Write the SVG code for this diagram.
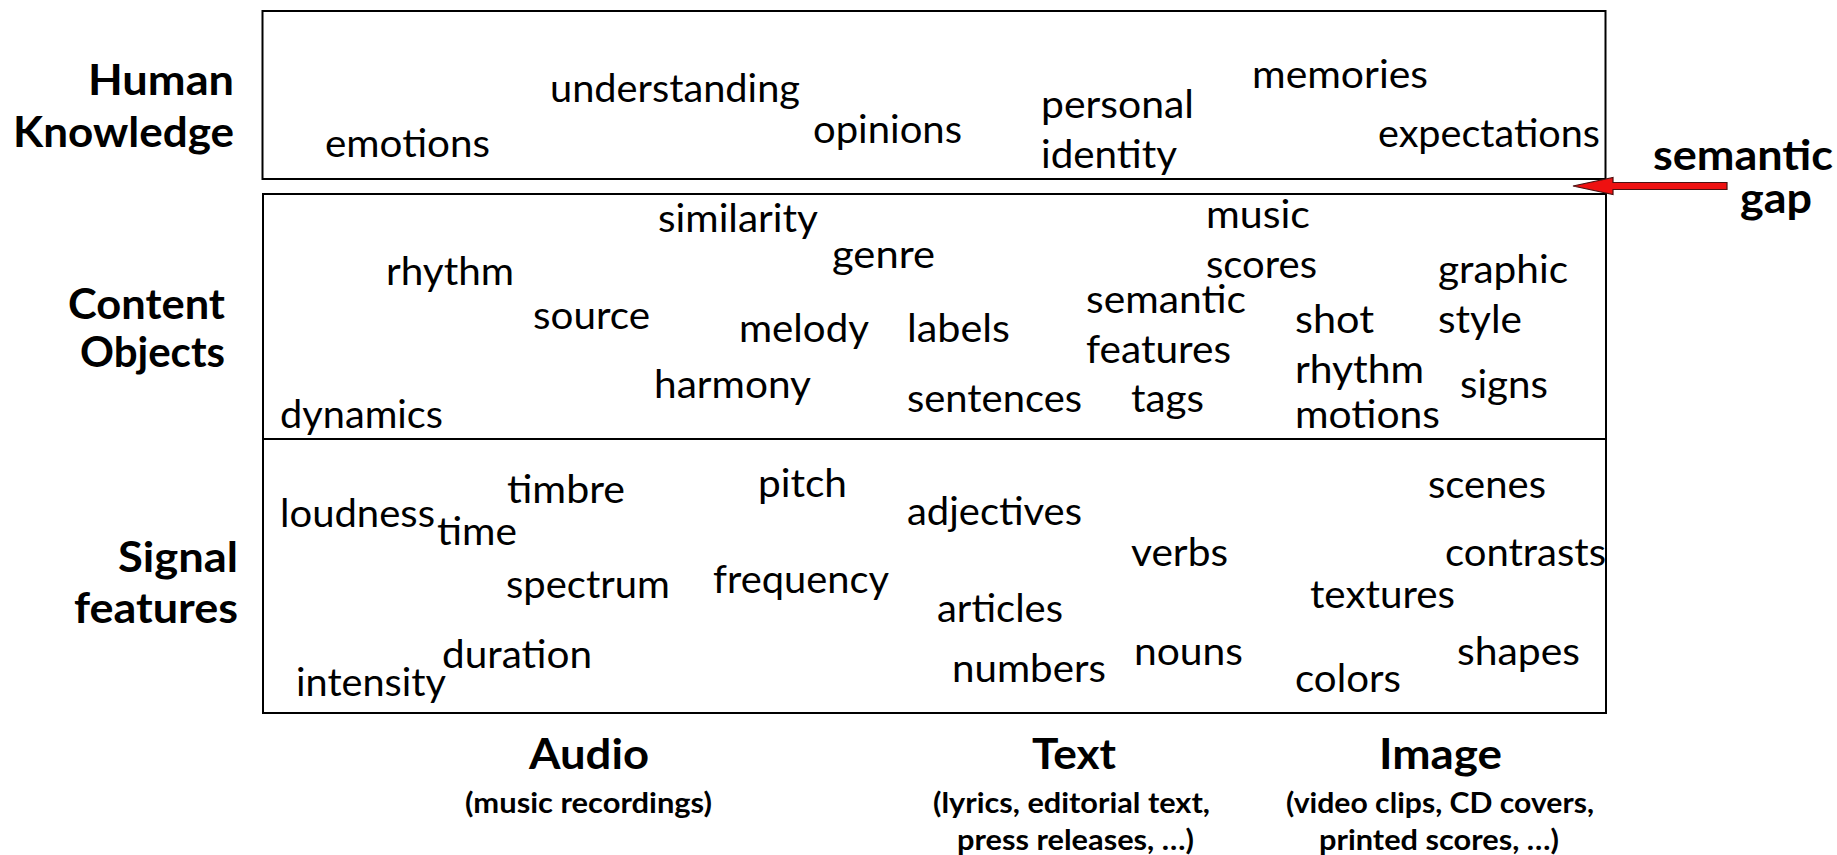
<svg xmlns="http://www.w3.org/2000/svg" width="1837" height="855" viewBox="0 0 1837 855">
  <defs>
    <style>
      text { font-family: Lato, "Open Sans", "Liberation Sans", sans-serif; fill: #000; }
      .w { font-size: 38px; }
      .lbl { font-size: 42px; font-weight: bold; }
      .cap { font-size: 28px; font-weight: bold; }
      .frame { fill: #fff; stroke: #000; stroke-width: 2; }
      .rule { stroke: #000; stroke-width: 2; fill: none; }
      .arrow { fill: #ee1111; stroke: #4a1010; stroke-width: 1.2; stroke-linejoin: miter; }
    </style>
  </defs>

  <rect width="1837" height="855" fill="#fff"/>

  <!-- layer frames -->
  <g id="frames">
    <rect class="frame" x="262.5" y="11" width="1343" height="168"/>
    <rect class="frame" x="263" y="194" width="1343" height="519"/>
    <line class="rule" x1="263" y1="439" x2="1606" y2="439"/>
  </g>

  <!-- row labels -->
  <g id="label-human-knowledge">
    <text class="lbl" x="88" y="95" textLength="146" lengthAdjust="spacingAndGlyphs">Human</text>
    <text class="lbl" x="13" y="147" textLength="221" lengthAdjust="spacingAndGlyphs">Knowledge</text>
  </g>
  <g id="label-content-objects">
    <text class="lbl" x="68" y="319" textLength="157" lengthAdjust="spacingAndGlyphs">Content</text>
    <text class="lbl" x="80" y="367" textLength="145" lengthAdjust="spacingAndGlyphs">Objects</text>
  </g>
  <g id="label-signal-features">
    <text class="lbl" x="118" y="572" textLength="120" lengthAdjust="spacingAndGlyphs">Signal</text>
    <text class="lbl" x="74" y="623" textLength="164" lengthAdjust="spacingAndGlyphs">features</text>
  </g>
  <g id="label-semantic-gap">
    <text class="lbl" x="1653" y="170" textLength="180" lengthAdjust="spacingAndGlyphs">semantic</text>
    <text class="lbl" x="1740" y="213" textLength="72" lengthAdjust="spacingAndGlyphs">gap</text>
  </g>

  <!-- human knowledge terms -->
  <g id="human-knowledge">
    <text class="w" x="325" y="157" textLength="165" lengthAdjust="spacingAndGlyphs">emotions</text>
    <text class="w" x="550" y="102" textLength="250" lengthAdjust="spacingAndGlyphs">understanding</text>
    <text class="w" x="813" y="143" textLength="149" lengthAdjust="spacingAndGlyphs">opinions</text>
    <text class="w" x="1041" y="118" textLength="153" lengthAdjust="spacingAndGlyphs">personal</text>
    <text class="w" x="1041" y="168" textLength="136" lengthAdjust="spacingAndGlyphs">identity</text>
    <text class="w" x="1252" y="88" textLength="176" lengthAdjust="spacingAndGlyphs">memories</text>
    <text class="w" x="1378" y="147" textLength="222" lengthAdjust="spacingAndGlyphs">expectations</text>
  </g>

  <!-- content object terms -->
  <g id="content-objects">
    <text class="w" x="658" y="232" textLength="160" lengthAdjust="spacingAndGlyphs">similarity</text>
    <text class="w" x="832" y="268" textLength="103" lengthAdjust="spacingAndGlyphs">genre</text>
    <text class="w" x="386" y="285" textLength="128" lengthAdjust="spacingAndGlyphs">rhythm</text>
    <text class="w" x="533" y="329" textLength="117" lengthAdjust="spacingAndGlyphs">source</text>
    <text class="w" x="739" y="342" textLength="130" lengthAdjust="spacingAndGlyphs">melody</text>
    <text class="w" x="907" y="342" textLength="103" lengthAdjust="spacingAndGlyphs">labels</text>
    <text class="w" x="654" y="398" textLength="157" lengthAdjust="spacingAndGlyphs">harmony</text>
    <text class="w" x="280" y="428" textLength="163" lengthAdjust="spacingAndGlyphs">dynamics</text>
    <text class="w" x="1206" y="228" textLength="104" lengthAdjust="spacingAndGlyphs">music</text>
    <text class="w" x="1206" y="278" textLength="111" lengthAdjust="spacingAndGlyphs">scores</text>
    <text class="w" x="1438" y="283" textLength="130" lengthAdjust="spacingAndGlyphs">graphic</text>
    <text class="w" x="1086" y="313" textLength="160" lengthAdjust="spacingAndGlyphs">semantic</text>
    <text class="w" x="1086" y="363" textLength="145" lengthAdjust="spacingAndGlyphs">features</text>
    <text class="w" x="1295" y="333" textLength="79" lengthAdjust="spacingAndGlyphs">shot</text>
    <text class="w" x="1438" y="333" textLength="84" lengthAdjust="spacingAndGlyphs">style</text>
    <text class="w" x="1295" y="383" textLength="129" lengthAdjust="spacingAndGlyphs">rhythm</text>
    <text class="w" x="1295" y="428" textLength="145" lengthAdjust="spacingAndGlyphs">motions</text>
    <text class="w" x="1460" y="398" textLength="88" lengthAdjust="spacingAndGlyphs">signs</text>
    <text class="w" x="907" y="412" textLength="175" lengthAdjust="spacingAndGlyphs">sentences</text>
    <text class="w" x="1131" y="412" textLength="73" lengthAdjust="spacingAndGlyphs">tags</text>
  </g>

  <!-- signal feature terms -->
  <g id="signal-features">
    <text class="w" x="280" y="527" textLength="155" lengthAdjust="spacingAndGlyphs">loudness</text>
    <text class="w" x="507" y="503" textLength="118" lengthAdjust="spacingAndGlyphs">timbre</text>
    <text class="w" x="437" y="545" textLength="80" lengthAdjust="spacingAndGlyphs">time</text>
    <text class="w" x="758" y="497" textLength="89" lengthAdjust="spacingAndGlyphs">pitch</text>
    <text class="w" x="506" y="598" textLength="164" lengthAdjust="spacingAndGlyphs">spectrum</text>
    <text class="w" x="713" y="593" textLength="176" lengthAdjust="spacingAndGlyphs">frequency</text>
    <text class="w" x="442" y="668" textLength="150" lengthAdjust="spacingAndGlyphs">duration</text>
    <text class="w" x="296" y="696" textLength="150" lengthAdjust="spacingAndGlyphs">intensity</text>
    <text class="w" x="907" y="525" textLength="175" lengthAdjust="spacingAndGlyphs">adjectives</text>
    <text class="w" x="1428" y="498" textLength="118" lengthAdjust="spacingAndGlyphs">scenes</text>
    <text class="w" x="1131" y="566" textLength="97" lengthAdjust="spacingAndGlyphs">verbs</text>
    <text class="w" x="1445" y="566" textLength="161" lengthAdjust="spacingAndGlyphs">contrasts</text>
    <text class="w" x="1310" y="608" textLength="145" lengthAdjust="spacingAndGlyphs">textures</text>
    <text class="w" x="937" y="622" textLength="126" lengthAdjust="spacingAndGlyphs">articles</text>
    <text class="w" x="1134" y="665" textLength="109" lengthAdjust="spacingAndGlyphs">nouns</text>
    <text class="w" x="1457" y="665" textLength="123" lengthAdjust="spacingAndGlyphs">shapes</text>
    <text class="w" x="952" y="682" textLength="154" lengthAdjust="spacingAndGlyphs">numbers</text>
    <text class="w" x="1295" y="692" textLength="106" lengthAdjust="spacingAndGlyphs">colors</text>
  </g>

  <!-- media columns -->
  <g id="media-audio">
    <text class="lbl" x="529" y="769" textLength="120" lengthAdjust="spacingAndGlyphs">Audio</text>
    <text class="cap" x="465" y="813" textLength="247" lengthAdjust="spacingAndGlyphs">(music recordings)</text>
  </g>
  <g id="media-text">
    <text class="lbl" x="1032" y="769" textLength="84" lengthAdjust="spacingAndGlyphs">Text</text>
    <text class="cap" x="933" y="813" textLength="277" lengthAdjust="spacingAndGlyphs">(lyrics, editorial text,</text>
    <text class="cap" x="957" y="850" textLength="237" lengthAdjust="spacingAndGlyphs">press releases, …)</text>
  </g>
  <g id="media-image">
    <text class="lbl" x="1379" y="769" textLength="123" lengthAdjust="spacingAndGlyphs">Image</text>
    <text class="cap" x="1286" y="813" textLength="308" lengthAdjust="spacingAndGlyphs">(video clips, CD covers,</text>
    <text class="cap" x="1319" y="850" textLength="240" lengthAdjust="spacingAndGlyphs">printed scores, …)</text>
  </g>

  <!-- connectors -->
  <g id="connectors">
    <path class="arrow" d="M1573,186 L1613,177.5 L1613,182.5 L1727,182.5 L1727,189.5 L1613,189.5 L1613,194.5 Z"/>
  </g>
</svg>
